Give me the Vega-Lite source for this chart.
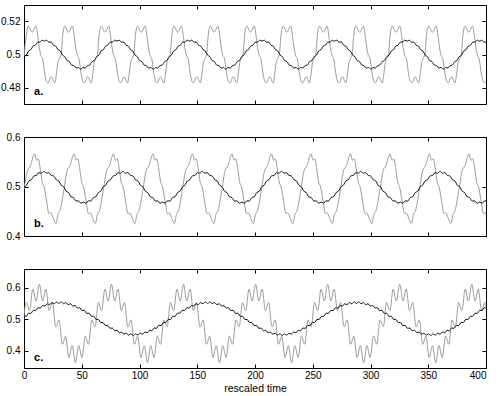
{
"$schema":"https://vega.github.io/schema/vega-lite/v6.json",
"padding":{"left":0,"top":4,"right":0,"bottom":0},
"bounds":"flush",
"spacing":33,
"config":{
"view":{"stroke":"#000","strokeWidth":1},
"font":"Liberation Sans",
"axis":{"domain":false,"grid":false,"ticks":true,"tickSize":-4,"tickColor":"#000","tickWidth":1,"labelFont":"Liberation Sans","labelFontSize":10,"labelColor":"#000","titleFont":"Liberation Sans","titleFontSize":10.5,"titleFontWeight":"normal","titleColor":"#000","labelFlush":false,"labelOverlap":false},
"axisX":{"labelPadding":6,"titlePadding":3},
"axisY":{"labelPadding":8}
},
"datasets":{
"ga":[{"t":0,"v":0.4985},
{"t":1.9,"v":0.511},{"t":3.8,"v":0.5172},{"t":7.1,"v":0.5135},{"t":10.4,"v":0.5172},{"t":11.9,"v":0.5115},{"t":13.3,"v":0.504},{"t":14.6,"v":0.4995},{"t":16.1,"v":0.4975},{"t":17.6,"v":0.49},{"t":19.1,"v":0.4845},{"t":20.7,"v":0.4828},{"t":23.7,"v":0.4865},{"t":26.7,"v":0.4828},{"t":28.1,"v":0.4885},{"t":29.3,"v":0.495},{"t":30.6,"v":0.4975},{"t":32.1,"v":0.5},
{"t":33.4,"v":0.511},{"t":35.3,"v":0.5172},{"t":38.6,"v":0.5135},{"t":41.9,"v":0.5172},{"t":43.4,"v":0.5115},{"t":44.8,"v":0.504},{"t":46.1,"v":0.4995},{"t":47.6,"v":0.4975},{"t":49.1,"v":0.49},{"t":50.6,"v":0.4845},{"t":52.2,"v":0.4828},{"t":55.2,"v":0.4865},{"t":58.2,"v":0.4828},{"t":59.6,"v":0.4885},{"t":60.8,"v":0.495},{"t":62.1,"v":0.4975},{"t":63.6,"v":0.5},
{"t":64.9,"v":0.511},{"t":66.8,"v":0.5172},{"t":70.1,"v":0.5135},{"t":73.4,"v":0.5172},{"t":74.9,"v":0.5115},{"t":76.3,"v":0.504},{"t":77.6,"v":0.4995},{"t":79.1,"v":0.4975},{"t":80.6,"v":0.49},{"t":82.1,"v":0.4845},{"t":83.7,"v":0.4828},{"t":86.7,"v":0.4865},{"t":89.7,"v":0.4828},{"t":91.1,"v":0.4885},{"t":92.3,"v":0.495},{"t":93.6,"v":0.4975},{"t":95.1,"v":0.5},
{"t":96.4,"v":0.511},{"t":98.3,"v":0.5172},{"t":101.6,"v":0.5135},{"t":104.9,"v":0.5172},{"t":106.4,"v":0.5115},{"t":107.8,"v":0.504},{"t":109.1,"v":0.4995},{"t":110.6,"v":0.4975},{"t":112.1,"v":0.49},{"t":113.6,"v":0.4845},{"t":115.2,"v":0.4828},{"t":118.2,"v":0.4865},{"t":121.2,"v":0.4828},{"t":122.6,"v":0.4885},{"t":123.8,"v":0.495},{"t":125.1,"v":0.4975},{"t":126.6,"v":0.5},
{"t":127.9,"v":0.511},{"t":129.8,"v":0.5172},{"t":133.1,"v":0.5135},{"t":136.4,"v":0.5172},{"t":137.9,"v":0.5115},{"t":139.3,"v":0.504},{"t":140.6,"v":0.4995},{"t":142.1,"v":0.4975},{"t":143.6,"v":0.49},{"t":145.1,"v":0.4845},{"t":146.7,"v":0.4828},{"t":149.7,"v":0.4865},{"t":152.7,"v":0.4828},{"t":154.1,"v":0.4885},{"t":155.3,"v":0.495},{"t":156.6,"v":0.4975},{"t":158.1,"v":0.5},
{"t":159.4,"v":0.511},{"t":161.3,"v":0.5172},{"t":164.6,"v":0.5135},{"t":167.9,"v":0.5172},{"t":169.4,"v":0.5115},{"t":170.8,"v":0.504},{"t":172.1,"v":0.4995},{"t":173.6,"v":0.4975},{"t":175.1,"v":0.49},{"t":176.6,"v":0.4845},{"t":178.2,"v":0.4828},{"t":181.2,"v":0.4865},{"t":184.2,"v":0.4828},{"t":185.6,"v":0.4885},{"t":186.8,"v":0.495},{"t":188.1,"v":0.4975},{"t":189.6,"v":0.5},
{"t":190.9,"v":0.511},{"t":192.8,"v":0.5172},{"t":196.1,"v":0.5135},{"t":199.4,"v":0.5172},{"t":200.9,"v":0.5115},{"t":202.3,"v":0.504},{"t":203.6,"v":0.4995},{"t":205.1,"v":0.4975},{"t":206.6,"v":0.49},{"t":208.1,"v":0.4845},{"t":209.7,"v":0.4828},{"t":212.7,"v":0.4865},{"t":215.7,"v":0.4828},{"t":217.1,"v":0.4885},{"t":218.3,"v":0.495},{"t":219.6,"v":0.4975},{"t":221.1,"v":0.5},
{"t":222.4,"v":0.511},{"t":224.3,"v":0.5172},{"t":227.6,"v":0.5135},{"t":230.9,"v":0.5172},{"t":232.4,"v":0.5115},{"t":233.8,"v":0.504},{"t":235.1,"v":0.4995},{"t":236.6,"v":0.4975},{"t":238.1,"v":0.49},{"t":239.6,"v":0.4845},{"t":241.2,"v":0.4828},{"t":244.2,"v":0.4865},{"t":247.2,"v":0.4828},{"t":248.6,"v":0.4885},{"t":249.8,"v":0.495},{"t":251.1,"v":0.4975},{"t":252.6,"v":0.5},
{"t":253.9,"v":0.511},{"t":255.8,"v":0.5172},{"t":259.1,"v":0.5135},{"t":262.4,"v":0.5172},{"t":263.9,"v":0.5115},{"t":265.3,"v":0.504},{"t":266.6,"v":0.4995},{"t":268.1,"v":0.4975},{"t":269.6,"v":0.49},{"t":271.1,"v":0.4845},{"t":272.7,"v":0.4828},{"t":275.7,"v":0.4865},{"t":278.7,"v":0.4828},{"t":280.1,"v":0.4885},{"t":281.3,"v":0.495},{"t":282.6,"v":0.4975},{"t":284.1,"v":0.5},
{"t":285.4,"v":0.511},{"t":287.3,"v":0.5172},{"t":290.6,"v":0.5135},{"t":293.9,"v":0.5172},{"t":295.4,"v":0.5115},{"t":296.8,"v":0.504},{"t":298.1,"v":0.4995},{"t":299.6,"v":0.4975},{"t":301.1,"v":0.49},{"t":302.6,"v":0.4845},{"t":304.2,"v":0.4828},{"t":307.2,"v":0.4865},{"t":310.2,"v":0.4828},{"t":311.6,"v":0.4885},{"t":312.8,"v":0.495},{"t":314.1,"v":0.4975},{"t":315.6,"v":0.5},
{"t":316.9,"v":0.511},{"t":318.8,"v":0.5172},{"t":322.1,"v":0.5135},{"t":325.4,"v":0.5172},{"t":326.9,"v":0.5115},{"t":328.3,"v":0.504},{"t":329.6,"v":0.4995},{"t":331.1,"v":0.4975},{"t":332.6,"v":0.49},{"t":334.1,"v":0.4845},{"t":335.7,"v":0.4828},{"t":338.7,"v":0.4865},{"t":341.7,"v":0.4828},{"t":343.1,"v":0.4885},{"t":344.3,"v":0.495},{"t":345.6,"v":0.4975},{"t":347.1,"v":0.5},
{"t":348.4,"v":0.511},{"t":350.3,"v":0.5172},{"t":353.6,"v":0.5135},{"t":356.9,"v":0.5172},{"t":358.4,"v":0.5115},{"t":359.8,"v":0.504},{"t":361.1,"v":0.4995},{"t":362.6,"v":0.4975},{"t":364.1,"v":0.49},{"t":365.6,"v":0.4845},{"t":367.2,"v":0.4828},{"t":370.2,"v":0.4865},{"t":373.2,"v":0.4828},{"t":374.6,"v":0.4885},{"t":375.8,"v":0.495},{"t":377.1,"v":0.4975},{"t":378.6,"v":0.5},
{"t":379.9,"v":0.511},{"t":381.8,"v":0.5172},{"t":385.1,"v":0.5135},{"t":388.4,"v":0.5172},{"t":389.9,"v":0.5115},{"t":391.3,"v":0.504},{"t":392.6,"v":0.4995},{"t":394.1,"v":0.4975},{"t":395.6,"v":0.49},{"t":397.1,"v":0.4845},{"t":398.7,"v":0.4828},{"t":401.7,"v":0.4865}],
"ka":[
{"t":0,"v":0.4987},{"t":2,"v":0.4996},{"t":3.9,"v":0.5021},{"t":5.9,"v":0.5029},{"t":7.9,"v":0.5051},{"t":9.8,"v":0.5056},{"t":11.8,"v":0.5075},{"t":13.7,"v":0.5075},{"t":15.7,"v":0.5087},{"t":17.7,"v":0.5081},{"t":19.6,"v":0.5087},{"t":21.6,"v":0.5075},{"t":23.6,"v":0.5075},{"t":25.5,"v":0.5056},{"t":27.5,"v":0.5051},{"t":29.4,"v":0.5029},{"t":31.4,"v":0.5021},{"t":33.4,"v":0.4996},{"t":35.3,"v":0.4987},{"t":37.3,"v":0.4963},{"t":39.3,"v":0.4957},{"t":41.2,"v":0.4936},{"t":43.2,"v":0.4933},{"t":45.1,"v":0.4918},{"t":47.1,"v":0.4921},{"t":49.1,"v":0.4911},{"t":51,"v":0.4921},{"t":53,"v":0.4918},{"t":55,"v":0.4933},{"t":56.9,"v":0.4936},{"t":58.9,"v":0.4957},{"t":60.8,"v":0.4963},
{"t":62.8,"v":0.4987},{"t":64.8,"v":0.4996},{"t":66.7,"v":0.5021},{"t":68.7,"v":0.5029},{"t":70.7,"v":0.5051},{"t":72.6,"v":0.5056},{"t":74.6,"v":0.5075},{"t":76.5,"v":0.5075},{"t":78.5,"v":0.5087},{"t":80.5,"v":0.5081},{"t":82.4,"v":0.5087},{"t":84.4,"v":0.5075},{"t":86.4,"v":0.5075},{"t":88.3,"v":0.5056},{"t":90.3,"v":0.5051},{"t":92.2,"v":0.5029},{"t":94.2,"v":0.5021},{"t":96.2,"v":0.4996},{"t":98.1,"v":0.4987},{"t":100.1,"v":0.4963},{"t":102.1,"v":0.4957},{"t":104,"v":0.4936},{"t":106,"v":0.4933},{"t":107.9,"v":0.4918},{"t":109.9,"v":0.4921},{"t":111.9,"v":0.4911},{"t":113.8,"v":0.4921},{"t":115.8,"v":0.4918},{"t":117.8,"v":0.4933},{"t":119.7,"v":0.4936},{"t":121.7,"v":0.4957},{"t":123.6,"v":0.4963},
{"t":125.6,"v":0.4987},{"t":127.6,"v":0.4996},{"t":129.5,"v":0.5021},{"t":131.5,"v":0.5029},{"t":133.5,"v":0.5051},{"t":135.4,"v":0.5056},{"t":137.4,"v":0.5075},{"t":139.3,"v":0.5075},{"t":141.3,"v":0.5087},{"t":143.3,"v":0.5081},{"t":145.2,"v":0.5087},{"t":147.2,"v":0.5075},{"t":149.2,"v":0.5075},{"t":151.1,"v":0.5056},{"t":153.1,"v":0.5051},{"t":155,"v":0.5029},{"t":157,"v":0.5021},{"t":159,"v":0.4996},{"t":160.9,"v":0.4987},{"t":162.9,"v":0.4963},{"t":164.9,"v":0.4957},{"t":166.8,"v":0.4936},{"t":168.8,"v":0.4933},{"t":170.7,"v":0.4918},{"t":172.7,"v":0.4921},{"t":174.7,"v":0.4911},{"t":176.6,"v":0.4921},{"t":178.6,"v":0.4918},{"t":180.6,"v":0.4933},{"t":182.5,"v":0.4936},{"t":184.5,"v":0.4957},{"t":186.4,"v":0.4963},
{"t":188.4,"v":0.4987},{"t":190.4,"v":0.4996},{"t":192.3,"v":0.5021},{"t":194.3,"v":0.5029},{"t":196.3,"v":0.5051},{"t":198.2,"v":0.5056},{"t":200.2,"v":0.5075},{"t":202.1,"v":0.5075},{"t":204.1,"v":0.5087},{"t":206.1,"v":0.5081},{"t":208,"v":0.5087},{"t":210,"v":0.5075},{"t":212,"v":0.5075},{"t":213.9,"v":0.5056},{"t":215.9,"v":0.5051},{"t":217.8,"v":0.5029},{"t":219.8,"v":0.5021},{"t":221.8,"v":0.4996},{"t":223.7,"v":0.4987},{"t":225.7,"v":0.4963},{"t":227.7,"v":0.4957},{"t":229.6,"v":0.4936},{"t":231.6,"v":0.4933},{"t":233.5,"v":0.4918},{"t":235.5,"v":0.4921},{"t":237.5,"v":0.4911},{"t":239.4,"v":0.4921},{"t":241.4,"v":0.4918},{"t":243.4,"v":0.4933},{"t":245.3,"v":0.4936},{"t":247.3,"v":0.4957},{"t":249.2,"v":0.4963},
{"t":251.2,"v":0.4987},{"t":253.2,"v":0.4996},{"t":255.1,"v":0.5021},{"t":257.1,"v":0.5029},{"t":259.1,"v":0.5051},{"t":261,"v":0.5056},{"t":263,"v":0.5075},{"t":264.9,"v":0.5075},{"t":266.9,"v":0.5087},{"t":268.9,"v":0.5081},{"t":270.8,"v":0.5087},{"t":272.8,"v":0.5075},{"t":274.8,"v":0.5075},{"t":276.7,"v":0.5056},{"t":278.7,"v":0.5051},{"t":280.6,"v":0.5029},{"t":282.6,"v":0.5021},{"t":284.6,"v":0.4996},{"t":286.5,"v":0.4987},{"t":288.5,"v":0.4963},{"t":290.5,"v":0.4957},{"t":292.4,"v":0.4936},{"t":294.4,"v":0.4933},{"t":296.3,"v":0.4918},{"t":298.3,"v":0.4921},{"t":300.3,"v":0.4911},{"t":302.2,"v":0.4921},{"t":304.2,"v":0.4918},{"t":306.2,"v":0.4933},{"t":308.1,"v":0.4936},{"t":310.1,"v":0.4957},{"t":312,"v":0.4963},
{"t":314,"v":0.4987},{"t":316,"v":0.4996},{"t":317.9,"v":0.5021},{"t":319.9,"v":0.5029},{"t":321.9,"v":0.5051},{"t":323.8,"v":0.5056},{"t":325.8,"v":0.5075},{"t":327.7,"v":0.5075},{"t":329.7,"v":0.5087},{"t":331.7,"v":0.5081},{"t":333.6,"v":0.5087},{"t":335.6,"v":0.5075},{"t":337.6,"v":0.5075},{"t":339.5,"v":0.5056},{"t":341.5,"v":0.5051},{"t":343.4,"v":0.5029},{"t":345.4,"v":0.5021},{"t":347.4,"v":0.4996},{"t":349.3,"v":0.4987},{"t":351.3,"v":0.4963},{"t":353.3,"v":0.4957},{"t":355.2,"v":0.4936},{"t":357.2,"v":0.4933},{"t":359.1,"v":0.4918},{"t":361.1,"v":0.4921},{"t":363.1,"v":0.4911},{"t":365,"v":0.4921},{"t":367,"v":0.4918},{"t":369,"v":0.4933},{"t":370.9,"v":0.4936},{"t":372.9,"v":0.4957},{"t":374.8,"v":0.4963},
{"t":376.8,"v":0.4987},{"t":378.8,"v":0.4996},{"t":380.7,"v":0.5021},{"t":382.7,"v":0.5029},{"t":384.7,"v":0.5051},{"t":386.6,"v":0.5056},{"t":388.6,"v":0.5075},{"t":390.5,"v":0.5075},{"t":392.5,"v":0.5087},{"t":394.5,"v":0.5081},{"t":396.4,"v":0.5087},{"t":398.4,"v":0.5075},{"t":400.4,"v":0.5075}],
"gb":[{"t":0,"v":0.495},
{"t":3.1,"v":0.532},{"t":5.6,"v":0.542},{"t":9.1,"v":0.566},{"t":10.8,"v":0.553},{"t":12.3,"v":0.556},{"t":14.1,"v":0.535},{"t":15.8,"v":0.508},{"t":17.3,"v":0.5},{"t":19.6,"v":0.47},{"t":21.6,"v":0.445},{"t":23.1,"v":0.447},{"t":25.1,"v":0.437},{"t":27.6,"v":0.425},
{"t":29.3,"v":0.443},{"t":31.3,"v":0.452},{"t":34.3,"v":0.49},{"t":37.3,"v":0.532},{"t":39.8,"v":0.542},{"t":43.3,"v":0.566},{"t":45,"v":0.553},{"t":46.5,"v":0.556},{"t":48.3,"v":0.535},{"t":50,"v":0.508},{"t":51.5,"v":0.5},{"t":53.8,"v":0.47},{"t":55.8,"v":0.445},{"t":57.3,"v":0.447},{"t":59.3,"v":0.437},{"t":61.8,"v":0.425},
{"t":63.5,"v":0.443},{"t":65.5,"v":0.452},{"t":68.5,"v":0.49},{"t":71.5,"v":0.532},{"t":74,"v":0.542},{"t":77.5,"v":0.566},{"t":79.2,"v":0.553},{"t":80.7,"v":0.556},{"t":82.5,"v":0.535},{"t":84.2,"v":0.508},{"t":85.7,"v":0.5},{"t":88,"v":0.47},{"t":90,"v":0.445},{"t":91.5,"v":0.447},{"t":93.5,"v":0.437},{"t":96,"v":0.425},
{"t":97.7,"v":0.443},{"t":99.7,"v":0.452},{"t":102.7,"v":0.49},{"t":105.7,"v":0.532},{"t":108.2,"v":0.542},{"t":111.7,"v":0.566},{"t":113.4,"v":0.553},{"t":114.9,"v":0.556},{"t":116.7,"v":0.535},{"t":118.4,"v":0.508},{"t":119.9,"v":0.5},{"t":122.2,"v":0.47},{"t":124.2,"v":0.445},{"t":125.7,"v":0.447},{"t":127.7,"v":0.437},{"t":130.2,"v":0.425},
{"t":131.9,"v":0.443},{"t":133.9,"v":0.452},{"t":136.9,"v":0.49},{"t":139.9,"v":0.532},{"t":142.4,"v":0.542},{"t":145.9,"v":0.566},{"t":147.6,"v":0.553},{"t":149.1,"v":0.556},{"t":150.9,"v":0.535},{"t":152.6,"v":0.508},{"t":154.1,"v":0.5},{"t":156.4,"v":0.47},{"t":158.4,"v":0.445},{"t":159.9,"v":0.447},{"t":161.9,"v":0.437},{"t":164.4,"v":0.425},
{"t":166.1,"v":0.443},{"t":168.1,"v":0.452},{"t":171.1,"v":0.49},{"t":174.1,"v":0.532},{"t":176.6,"v":0.542},{"t":180.1,"v":0.566},{"t":181.8,"v":0.553},{"t":183.3,"v":0.556},{"t":185.1,"v":0.535},{"t":186.8,"v":0.508},{"t":188.3,"v":0.5},{"t":190.6,"v":0.47},{"t":192.6,"v":0.445},{"t":194.1,"v":0.447},{"t":196.1,"v":0.437},{"t":198.6,"v":0.425},
{"t":200.3,"v":0.443},{"t":202.3,"v":0.452},{"t":205.3,"v":0.49},{"t":208.3,"v":0.532},{"t":210.8,"v":0.542},{"t":214.3,"v":0.566},{"t":216,"v":0.553},{"t":217.5,"v":0.556},{"t":219.3,"v":0.535},{"t":221,"v":0.508},{"t":222.5,"v":0.5},{"t":224.8,"v":0.47},{"t":226.8,"v":0.445},{"t":228.3,"v":0.447},{"t":230.3,"v":0.437},{"t":232.8,"v":0.425},
{"t":234.5,"v":0.443},{"t":236.5,"v":0.452},{"t":239.5,"v":0.49},{"t":242.5,"v":0.532},{"t":245,"v":0.542},{"t":248.5,"v":0.566},{"t":250.2,"v":0.553},{"t":251.7,"v":0.556},{"t":253.5,"v":0.535},{"t":255.2,"v":0.508},{"t":256.7,"v":0.5},{"t":259,"v":0.47},{"t":261,"v":0.445},{"t":262.5,"v":0.447},{"t":264.5,"v":0.437},{"t":267,"v":0.425},
{"t":268.7,"v":0.443},{"t":270.7,"v":0.452},{"t":273.7,"v":0.49},{"t":276.7,"v":0.532},{"t":279.2,"v":0.542},{"t":282.7,"v":0.566},{"t":284.4,"v":0.553},{"t":285.9,"v":0.556},{"t":287.7,"v":0.535},{"t":289.4,"v":0.508},{"t":290.9,"v":0.5},{"t":293.2,"v":0.47},{"t":295.2,"v":0.445},{"t":296.7,"v":0.447},{"t":298.7,"v":0.437},{"t":301.2,"v":0.425},
{"t":302.9,"v":0.443},{"t":304.9,"v":0.452},{"t":307.9,"v":0.49},{"t":310.9,"v":0.532},{"t":313.4,"v":0.542},{"t":316.9,"v":0.566},{"t":318.6,"v":0.553},{"t":320.1,"v":0.556},{"t":321.9,"v":0.535},{"t":323.6,"v":0.508},{"t":325.1,"v":0.5},{"t":327.4,"v":0.47},{"t":329.4,"v":0.445},{"t":330.9,"v":0.447},{"t":332.9,"v":0.437},{"t":335.4,"v":0.425},
{"t":337.1,"v":0.443},{"t":339.1,"v":0.452},{"t":342.1,"v":0.49},{"t":345.1,"v":0.532},{"t":347.6,"v":0.542},{"t":351.1,"v":0.566},{"t":352.8,"v":0.553},{"t":354.3,"v":0.556},{"t":356.1,"v":0.535},{"t":357.8,"v":0.508},{"t":359.3,"v":0.5},{"t":361.6,"v":0.47},{"t":363.6,"v":0.445},{"t":365.1,"v":0.447},{"t":367.1,"v":0.437},{"t":369.6,"v":0.425},
{"t":371.3,"v":0.443},{"t":373.3,"v":0.452},{"t":376.3,"v":0.49},{"t":379.3,"v":0.532},{"t":381.8,"v":0.542},{"t":385.3,"v":0.566},{"t":387,"v":0.553},{"t":388.5,"v":0.556},{"t":390.3,"v":0.535},{"t":392,"v":0.508},{"t":393.5,"v":0.5},{"t":395.8,"v":0.47},{"t":397.8,"v":0.445},{"t":399.3,"v":0.447},{"t":401.3,"v":0.437}],
"kb":[
{"t":0,"v":0.4995},{"t":2.1,"v":0.5025},{"t":4.3,"v":0.5114},{"t":6.4,"v":0.5137},{"t":8.6,"v":0.5214},{"t":10.7,"v":0.5223},{"t":12.9,"v":0.5281},{"t":15,"v":0.5269},{"t":17.2,"v":0.5305},{"t":19.3,"v":0.5269},{"t":21.4,"v":0.5281},{"t":23.6,"v":0.5223},{"t":25.7,"v":0.5214},{"t":27.9,"v":0.5137},{"t":30,"v":0.5114},{"t":32.2,"v":0.5025},{"t":34.3,"v":0.4995},{"t":36.4,"v":0.4905},{"t":38.6,"v":0.4876},{"t":40.7,"v":0.4793},{"t":42.9,"v":0.4776},{"t":45,"v":0.4707},{"t":47.2,"v":0.4709},{"t":49.3,"v":0.4661},{"t":51.5,"v":0.4685},{"t":53.6,"v":0.4661},{"t":55.7,"v":0.4709},{"t":57.9,"v":0.4707},{"t":60,"v":0.4776},{"t":62.2,"v":0.4793},{"t":64.3,"v":0.4876},{"t":66.5,"v":0.4905},
{"t":68.6,"v":0.4995},{"t":70.7,"v":0.5025},{"t":72.9,"v":0.5114},{"t":75,"v":0.5137},{"t":77.2,"v":0.5214},{"t":79.3,"v":0.5223},{"t":81.5,"v":0.5281},{"t":83.6,"v":0.5269},{"t":85.8,"v":0.5305},{"t":87.9,"v":0.5269},{"t":90,"v":0.5281},{"t":92.2,"v":0.5223},{"t":94.3,"v":0.5214},{"t":96.5,"v":0.5137},{"t":98.6,"v":0.5114},{"t":100.8,"v":0.5025},{"t":102.9,"v":0.4995},{"t":105,"v":0.4905},{"t":107.2,"v":0.4876},{"t":109.3,"v":0.4793},{"t":111.5,"v":0.4776},{"t":113.6,"v":0.4707},{"t":115.8,"v":0.4709},{"t":117.9,"v":0.4661},{"t":120.1,"v":0.4685},{"t":122.2,"v":0.4661},{"t":124.3,"v":0.4709},{"t":126.5,"v":0.4707},{"t":128.6,"v":0.4776},{"t":130.8,"v":0.4793},{"t":132.9,"v":0.4876},{"t":135.1,"v":0.4905},
{"t":137.2,"v":0.4995},{"t":139.3,"v":0.5025},{"t":141.5,"v":0.5114},{"t":143.6,"v":0.5137},{"t":145.8,"v":0.5214},{"t":147.9,"v":0.5223},{"t":150.1,"v":0.5281},{"t":152.2,"v":0.5269},{"t":154.4,"v":0.5305},{"t":156.5,"v":0.5269},{"t":158.6,"v":0.5281},{"t":160.8,"v":0.5223},{"t":162.9,"v":0.5214},{"t":165.1,"v":0.5137},{"t":167.2,"v":0.5114},{"t":169.4,"v":0.5025},{"t":171.5,"v":0.4995},{"t":173.6,"v":0.4905},{"t":175.8,"v":0.4876},{"t":177.9,"v":0.4793},{"t":180.1,"v":0.4776},{"t":182.2,"v":0.4707},{"t":184.4,"v":0.4709},{"t":186.5,"v":0.4661},{"t":188.7,"v":0.4685},{"t":190.8,"v":0.4661},{"t":192.9,"v":0.4709},{"t":195.1,"v":0.4707},{"t":197.2,"v":0.4776},{"t":199.4,"v":0.4793},{"t":201.5,"v":0.4876},{"t":203.7,"v":0.4905},
{"t":205.8,"v":0.4995},{"t":207.9,"v":0.5025},{"t":210.1,"v":0.5114},{"t":212.2,"v":0.5137},{"t":214.4,"v":0.5214},{"t":216.5,"v":0.5223},{"t":218.7,"v":0.5281},{"t":220.8,"v":0.5269},{"t":223,"v":0.5305},{"t":225.1,"v":0.5269},{"t":227.2,"v":0.5281},{"t":229.4,"v":0.5223},{"t":231.5,"v":0.5214},{"t":233.7,"v":0.5137},{"t":235.8,"v":0.5114},{"t":238,"v":0.5025},{"t":240.1,"v":0.4995},{"t":242.2,"v":0.4905},{"t":244.4,"v":0.4876},{"t":246.5,"v":0.4793},{"t":248.7,"v":0.4776},{"t":250.8,"v":0.4707},{"t":253,"v":0.4709},{"t":255.1,"v":0.4661},{"t":257.3,"v":0.4685},{"t":259.4,"v":0.4661},{"t":261.5,"v":0.4709},{"t":263.7,"v":0.4707},{"t":265.8,"v":0.4776},{"t":268,"v":0.4793},{"t":270.1,"v":0.4876},{"t":272.3,"v":0.4905},
{"t":274.4,"v":0.4995},{"t":276.5,"v":0.5025},{"t":278.7,"v":0.5114},{"t":280.8,"v":0.5137},{"t":283,"v":0.5214},{"t":285.1,"v":0.5223},{"t":287.3,"v":0.5281},{"t":289.4,"v":0.5269},{"t":291.6,"v":0.5305},{"t":293.7,"v":0.5269},{"t":295.8,"v":0.5281},{"t":298,"v":0.5223},{"t":300.1,"v":0.5214},{"t":302.3,"v":0.5137},{"t":304.4,"v":0.5114},{"t":306.6,"v":0.5025},{"t":308.7,"v":0.4995},{"t":310.8,"v":0.4905},{"t":313,"v":0.4876},{"t":315.1,"v":0.4793},{"t":317.3,"v":0.4776},{"t":319.4,"v":0.4707},{"t":321.6,"v":0.4709},{"t":323.7,"v":0.4661},{"t":325.9,"v":0.4685},{"t":328,"v":0.4661},{"t":330.1,"v":0.4709},{"t":332.3,"v":0.4707},{"t":334.4,"v":0.4776},{"t":336.6,"v":0.4793},{"t":338.7,"v":0.4876},{"t":340.9,"v":0.4905},
{"t":343,"v":0.4995},{"t":345.1,"v":0.5025},{"t":347.3,"v":0.5114},{"t":349.4,"v":0.5137},{"t":351.6,"v":0.5214},{"t":353.7,"v":0.5223},{"t":355.9,"v":0.5281},{"t":358,"v":0.5269},{"t":360.2,"v":0.5305},{"t":362.3,"v":0.5269},{"t":364.4,"v":0.5281},{"t":366.6,"v":0.5223},{"t":368.7,"v":0.5214},{"t":370.9,"v":0.5137},{"t":373,"v":0.5114},{"t":375.2,"v":0.5025},{"t":377.3,"v":0.4995},{"t":379.4,"v":0.4905},{"t":381.6,"v":0.4876},{"t":383.7,"v":0.4793},{"t":385.9,"v":0.4776},{"t":388,"v":0.4707},{"t":390.2,"v":0.4709},{"t":392.3,"v":0.4661},{"t":394.5,"v":0.4685},{"t":396.6,"v":0.4661},{"t":398.7,"v":0.4709},{"t":400.9,"v":0.4707}],
"gc":[
{"t":-0.9,"v":0.4762},{"t":2,"v":0.5535},{"t":4.8,"v":0.5275},{"t":7.6,"v":0.5961},{"t":10.5,"v":0.558},
{"t":13.3,"v":0.612},{"t":16.1,"v":0.558},{"t":19,"v":0.5961},{"t":21.8,"v":0.5275},{"t":24.6,"v":0.5535},{"t":27.5,"v":0.4762},{"t":30.3,"v":0.4978},{"t":33.2,"v":0.4205},{"t":36,"v":0.4465},{"t":38.8,"v":0.3779},{"t":41.7,"v":0.4161},{"t":44.5,"v":0.362},{"t":47.3,"v":0.4161},{"t":50.2,"v":0.3779},{"t":53,"v":0.4465},{"t":55.8,"v":0.4205},{"t":58.7,"v":0.4978},{"t":61.5,"v":0.4762},{"t":64.4,"v":0.5535},{"t":67.2,"v":0.5275},{"t":70,"v":0.5961},{"t":72.9,"v":0.558},
{"t":75.7,"v":0.612},{"t":78.5,"v":0.558},{"t":81.4,"v":0.5961},{"t":84.2,"v":0.5275},{"t":87,"v":0.5535},{"t":89.9,"v":0.4762},{"t":92.7,"v":0.4978},{"t":95.5,"v":0.4205},{"t":98.4,"v":0.4465},{"t":101.2,"v":0.3779},{"t":104.1,"v":0.4161},{"t":106.9,"v":0.362},{"t":109.7,"v":0.4161},{"t":112.6,"v":0.3779},{"t":115.4,"v":0.4465},{"t":118.2,"v":0.4205},{"t":121.1,"v":0.4978},{"t":123.9,"v":0.4762},{"t":126.7,"v":0.5535},{"t":129.6,"v":0.5275},{"t":132.4,"v":0.5961},{"t":135.3,"v":0.558},
{"t":138.1,"v":0.612},{"t":140.9,"v":0.558},{"t":143.8,"v":0.5961},{"t":146.6,"v":0.5275},{"t":149.4,"v":0.5535},{"t":152.3,"v":0.4762},{"t":155.1,"v":0.4978},{"t":157.9,"v":0.4205},{"t":160.8,"v":0.4465},{"t":163.6,"v":0.3779},{"t":166.4,"v":0.4161},{"t":169.3,"v":0.362},{"t":172.1,"v":0.4161},{"t":175,"v":0.3779},{"t":177.8,"v":0.4465},{"t":180.6,"v":0.4205},{"t":183.5,"v":0.4978},{"t":186.3,"v":0.4762},{"t":189.1,"v":0.5535},{"t":192,"v":0.5275},{"t":194.8,"v":0.5961},{"t":197.6,"v":0.558},
{"t":200.5,"v":0.612},{"t":203.3,"v":0.558},{"t":206.2,"v":0.5961},{"t":209,"v":0.5275},{"t":211.8,"v":0.5535},{"t":214.7,"v":0.4762},{"t":217.5,"v":0.4978},{"t":220.3,"v":0.4205},{"t":223.2,"v":0.4465},{"t":226,"v":0.3779},{"t":228.8,"v":0.4161},{"t":231.7,"v":0.362},{"t":234.5,"v":0.4161},{"t":237.4,"v":0.3779},{"t":240.2,"v":0.4465},{"t":243,"v":0.4205},{"t":245.9,"v":0.4978},{"t":248.7,"v":0.4762},{"t":251.5,"v":0.5535},{"t":254.4,"v":0.5275},{"t":257.2,"v":0.5961},{"t":260,"v":0.558},
{"t":262.9,"v":0.612},{"t":265.7,"v":0.558},{"t":268.5,"v":0.5961},{"t":271.4,"v":0.5275},{"t":274.2,"v":0.5535},{"t":277.1,"v":0.4762},{"t":279.9,"v":0.4978},{"t":282.7,"v":0.4205},{"t":285.6,"v":0.4465},{"t":288.4,"v":0.3779},{"t":291.2,"v":0.4161},{"t":294.1,"v":0.362},{"t":296.9,"v":0.4161},{"t":299.7,"v":0.3779},{"t":302.6,"v":0.4465},{"t":305.4,"v":0.4205},{"t":308.3,"v":0.4978},{"t":311.1,"v":0.4762},{"t":313.9,"v":0.5535},{"t":316.8,"v":0.5275},{"t":319.6,"v":0.5961},{"t":322.4,"v":0.558},
{"t":325.3,"v":0.612},{"t":328.1,"v":0.558},{"t":330.9,"v":0.5961},{"t":333.8,"v":0.5275},{"t":336.6,"v":0.5535},{"t":339.4,"v":0.4762},{"t":342.3,"v":0.4978},{"t":345.1,"v":0.4205},{"t":348,"v":0.4465},{"t":350.8,"v":0.3779},{"t":353.6,"v":0.4161},{"t":356.5,"v":0.362},{"t":359.3,"v":0.4161},{"t":362.1,"v":0.3779},{"t":365,"v":0.4465},{"t":367.8,"v":0.4205},{"t":370.6,"v":0.4978},{"t":373.5,"v":0.4762},{"t":376.3,"v":0.5535},{"t":379.1,"v":0.5275},{"t":382,"v":0.5961},{"t":384.8,"v":0.558},
{"t":387.7,"v":0.612},{"t":390.5,"v":0.558},{"t":393.3,"v":0.5961},{"t":396.2,"v":0.5275},{"t":399,"v":0.5535},{"t":401.8,"v":0.4762}],
"kc":[
{"t":0,"v":0.5095},{"t":2,"v":0.5095},{"t":4,"v":0.5193},{"t":6,"v":0.519},{"t":8.1,"v":0.5285},{"t":10.1,"v":0.5278},{"t":12.1,"v":0.5369},{"t":14.1,"v":0.5356},{"t":16.1,"v":0.5439},{"t":18.1,"v":0.5419},{"t":20.1,"v":0.5495},{"t":22.1,"v":0.5466},{"t":24.2,"v":0.5533},{"t":26.2,"v":0.5495},{"t":28.2,"v":0.5553},{"t":30.2,"v":0.5505},{"t":32.2,"v":0.5553},{"t":34.2,"v":0.5495},{"t":36.2,"v":0.5533},{"t":38.2,"v":0.5466},{"t":40.3,"v":0.5495},{"t":42.3,"v":0.5419},{"t":44.3,"v":0.5439},{"t":46.3,"v":0.5356},{"t":48.3,"v":0.5369},{"t":50.3,"v":0.5278},{"t":52.3,"v":0.5285},{"t":54.3,"v":0.519},{"t":56.4,"v":0.5193},{"t":58.4,"v":0.5095},{"t":60.4,"v":0.5095},{"t":62.4,"v":0.4995},{"t":64.4,"v":0.4995},{"t":66.4,"v":0.4896},{"t":68.4,"v":0.4897},{"t":70.4,"v":0.48},{"t":72.5,"v":0.4805},{"t":74.5,"v":0.4712},{"t":76.5,"v":0.4722},{"t":78.5,"v":0.4634},{"t":80.5,"v":0.4651},{"t":82.5,"v":0.4571},{"t":84.5,"v":0.4595},{"t":86.5,"v":0.4524},{"t":88.6,"v":0.4557},{"t":90.6,"v":0.4495},{"t":92.6,"v":0.4537},{"t":94.6,"v":0.4485},{"t":96.6,"v":0.4537},{"t":98.6,"v":0.4495},{"t":100.6,"v":0.4557},{"t":102.6,"v":0.4524},{"t":104.7,"v":0.4595},{"t":106.7,"v":0.4571},{"t":108.7,"v":0.4651},{"t":110.7,"v":0.4634},{"t":112.7,"v":0.4722},{"t":114.7,"v":0.4712},{"t":116.7,"v":0.4805},{"t":118.7,"v":0.48},{"t":120.8,"v":0.4897},{"t":122.8,"v":0.4896},{"t":124.8,"v":0.4995},{"t":126.8,"v":0.4995},
{"t":128.8,"v":0.5095},{"t":130.8,"v":0.5095},{"t":132.8,"v":0.5193},{"t":134.8,"v":0.519},{"t":136.9,"v":0.5285},{"t":138.9,"v":0.5278},{"t":140.9,"v":0.5369},{"t":142.9,"v":0.5356},{"t":144.9,"v":0.5439},{"t":146.9,"v":0.5419},{"t":148.9,"v":0.5495},{"t":150.9,"v":0.5466},{"t":153,"v":0.5533},{"t":155,"v":0.5495},{"t":157,"v":0.5553},{"t":159,"v":0.5505},{"t":161,"v":0.5553},{"t":163,"v":0.5495},{"t":165,"v":0.5533},{"t":167,"v":0.5466},{"t":169.1,"v":0.5495},{"t":171.1,"v":0.5419},{"t":173.1,"v":0.5439},{"t":175.1,"v":0.5356},{"t":177.1,"v":0.5369},{"t":179.1,"v":0.5278},{"t":181.1,"v":0.5285},{"t":183.1,"v":0.519},{"t":185.2,"v":0.5193},{"t":187.2,"v":0.5095},{"t":189.2,"v":0.5095},{"t":191.2,"v":0.4995},{"t":193.2,"v":0.4995},{"t":195.2,"v":0.4896},{"t":197.2,"v":0.4897},{"t":199.2,"v":0.48},{"t":201.3,"v":0.4805},{"t":203.3,"v":0.4712},{"t":205.3,"v":0.4722},{"t":207.3,"v":0.4634},{"t":209.3,"v":0.4651},{"t":211.3,"v":0.4571},{"t":213.3,"v":0.4595},{"t":215.3,"v":0.4524},{"t":217.4,"v":0.4557},{"t":219.4,"v":0.4495},{"t":221.4,"v":0.4537},{"t":223.4,"v":0.4485},{"t":225.4,"v":0.4537},{"t":227.4,"v":0.4495},{"t":229.4,"v":0.4557},{"t":231.4,"v":0.4524},{"t":233.5,"v":0.4595},{"t":235.5,"v":0.4571},{"t":237.5,"v":0.4651},{"t":239.5,"v":0.4634},{"t":241.5,"v":0.4722},{"t":243.5,"v":0.4712},{"t":245.5,"v":0.4805},{"t":247.5,"v":0.48},{"t":249.6,"v":0.4897},{"t":251.6,"v":0.4896},{"t":253.6,"v":0.4995},{"t":255.6,"v":0.4995},
{"t":257.6,"v":0.5095},{"t":259.6,"v":0.5095},{"t":261.6,"v":0.5193},{"t":263.6,"v":0.519},{"t":265.7,"v":0.5285},{"t":267.7,"v":0.5278},{"t":269.7,"v":0.5369},{"t":271.7,"v":0.5356},{"t":273.7,"v":0.5439},{"t":275.7,"v":0.5419},{"t":277.7,"v":0.5495},{"t":279.7,"v":0.5466},{"t":281.8,"v":0.5533},{"t":283.8,"v":0.5495},{"t":285.8,"v":0.5553},{"t":287.8,"v":0.5505},{"t":289.8,"v":0.5553},{"t":291.8,"v":0.5495},{"t":293.8,"v":0.5533},{"t":295.8,"v":0.5466},{"t":297.9,"v":0.5495},{"t":299.9,"v":0.5419},{"t":301.9,"v":0.5439},{"t":303.9,"v":0.5356},{"t":305.9,"v":0.5369},{"t":307.9,"v":0.5278},{"t":309.9,"v":0.5285},{"t":311.9,"v":0.519},{"t":314,"v":0.5193},{"t":316,"v":0.5095},{"t":318,"v":0.5095},{"t":320,"v":0.4995},{"t":322,"v":0.4995},{"t":324,"v":0.4896},{"t":326,"v":0.4897},{"t":328,"v":0.48},{"t":330.1,"v":0.4805},{"t":332.1,"v":0.4712},{"t":334.1,"v":0.4722},{"t":336.1,"v":0.4634},{"t":338.1,"v":0.4651},{"t":340.1,"v":0.4571},{"t":342.1,"v":0.4595},{"t":344.1,"v":0.4524},{"t":346.2,"v":0.4557},{"t":348.2,"v":0.4495},{"t":350.2,"v":0.4537},{"t":352.2,"v":0.4485},{"t":354.2,"v":0.4537},{"t":356.2,"v":0.4495},{"t":358.2,"v":0.4557},{"t":360.2,"v":0.4524},{"t":362.3,"v":0.4595},{"t":364.3,"v":0.4571},{"t":366.3,"v":0.4651},{"t":368.3,"v":0.4634},{"t":370.3,"v":0.4722},{"t":372.3,"v":0.4712},{"t":374.3,"v":0.4805},{"t":376.3,"v":0.48},{"t":378.4,"v":0.4897},{"t":380.4,"v":0.4896},{"t":382.4,"v":0.4995},{"t":384.4,"v":0.4995},
{"t":386.4,"v":0.5095},{"t":388.4,"v":0.5095},{"t":390.4,"v":0.5193},{"t":392.4,"v":0.519},{"t":394.5,"v":0.5285},{"t":396.5,"v":0.5278},{"t":398.5,"v":0.5369},{"t":400.5,"v":0.5356}]
},
"vconcat":[
{"width":462,"height":99,
"layer":[
{"data":{"name":"ga"},"mark":{"type":"line","color":"#9c9c9c","strokeWidth":1,"interpolate":"monotone","clip":true},
"encoding":{"x":{"field":"t","type":"quantitative","scale":{"domain":[0,400],"nice":false,"zero":false},"axis":{"orient":"bottom","values":[0,50,100,150,200,250,300,350,400],"labels":false,"title":null}},
"y":{"field":"v","type":"quantitative","scale":{"domain":[0.47,0.53],"nice":false,"zero":false},"axis":{"orient":"left","values":[0.48,0.5,0.52],"format":"~g","title":null}}}},
{"data":{"name":"ka"},"mark":{"type":"line","color":"#111111","strokeWidth":1,"interpolate":"monotone","clip":true},
"encoding":{"x":{"field":"t","type":"quantitative","axis":{"orient":"top","values":[0,50,100,150,200,250,300,350,400],"labels":false,"title":null}},
"y":{"field":"v","type":"quantitative","axis":{"orient":"right","values":[0.48,0.5,0.52],"labels":false,"title":null}}}},
{"data":{"values":[{"label":"a."}]},"mark":{"type":"text","font":"Liberation Sans","fontWeight":"bold","fontSize":11,"align":"left","baseline":"alphabetic","color":"#000"},
"encoding":{"x":{"datum":8.7,"type":"quantitative","axis":null},"y":{"datum":0.4752,"type":"quantitative","axis":null},"text":{"field":"label"}}}
],
"resolve":{"axis":{"x":"independent","y":"independent"}}},
{"width":462,"height":99,
"layer":[
{"data":{"name":"gb"},"mark":{"type":"line","color":"#9c9c9c","strokeWidth":1,"interpolate":"monotone","clip":true},
"encoding":{"x":{"field":"t","type":"quantitative","scale":{"domain":[0,400],"nice":false,"zero":false},"axis":{"orient":"bottom","values":[0,50,100,150,200,250,300,350,400],"labels":false,"title":null}},
"y":{"field":"v","type":"quantitative","scale":{"domain":[0.4,0.6],"nice":false,"zero":false},"axis":{"orient":"left","values":[0.4,0.5,0.6],"format":"~g","title":null}}}},
{"data":{"name":"kb"},"mark":{"type":"line","color":"#111111","strokeWidth":1,"interpolate":"monotone","clip":true},
"encoding":{"x":{"field":"t","type":"quantitative","axis":{"orient":"top","values":[0,50,100,150,200,250,300,350,400],"labels":false,"title":null}},
"y":{"field":"v","type":"quantitative","axis":{"orient":"right","values":[0.4,0.5,0.6],"labels":false,"title":null}}}},
{"data":{"values":[{"label":"b."}]},"mark":{"type":"text","font":"Liberation Sans","fontWeight":"bold","fontSize":11,"align":"left","baseline":"alphabetic","color":"#000"},
"encoding":{"x":{"datum":8.7,"type":"quantitative","axis":null},"y":{"datum":0.418,"type":"quantitative","axis":null},"text":{"field":"label"}}}
],
"resolve":{"axis":{"x":"independent","y":"independent"}}},
{"width":462,"height":99,
"layer":[
{"data":{"name":"gc"},"mark":{"type":"line","color":"#9c9c9c","strokeWidth":1,"interpolate":"monotone","clip":true},
"encoding":{"x":{"field":"t","type":"quantitative","scale":{"domain":[0,400],"nice":false,"zero":false},"axis":{"orient":"bottom","values":[0,50,100,150,200,250,300,350,400],"format":"d","title":"rescaled time","labelAlign":{"condition":{"test":"datum.value == 400","value":"right"},"value":"center"}}},
"y":{"field":"v","type":"quantitative","scale":{"domain":[0.345,0.66],"nice":false,"zero":false},"axis":{"orient":"left","values":[0.4,0.5,0.6],"format":"~g","title":null}}}},
{"data":{"name":"kc"},"mark":{"type":"line","color":"#111111","strokeWidth":1,"interpolate":"monotone","clip":true},
"encoding":{"x":{"field":"t","type":"quantitative","axis":{"orient":"top","values":[0,50,100,150,200,250,300,350,400],"labels":false,"title":null}},
"y":{"field":"v","type":"quantitative","axis":{"orient":"right","values":[0.4,0.5,0.6],"labels":false,"title":null}}}},
{"data":{"values":[{"label":"c."}]},"mark":{"type":"text","font":"Liberation Sans","fontWeight":"bold","fontSize":11,"align":"left","baseline":"alphabetic","color":"#000"},
"encoding":{"x":{"datum":8.7,"type":"quantitative","axis":null},"y":{"datum":0.368,"type":"quantitative","axis":null},"text":{"field":"label"}}}
],
"resolve":{"axis":{"x":"independent","y":"independent"}}}
]
}
